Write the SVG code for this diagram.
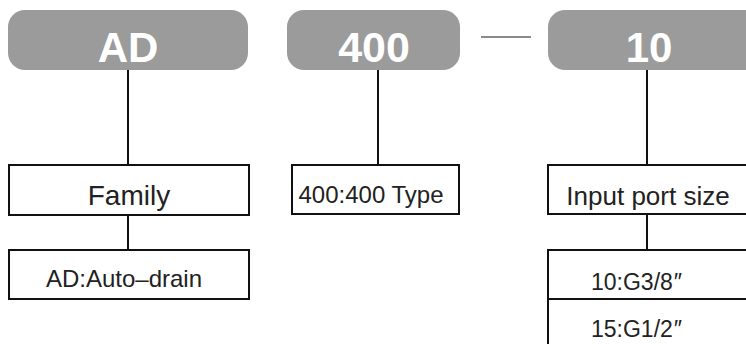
<svg xmlns="http://www.w3.org/2000/svg" width="746" height="344" viewBox="0 0 746 344">
<style>
.pill{fill:#9b9b9b}
.pt{font-family:"Liberation Sans",Arial,sans-serif;font-weight:bold;fill:#fff;text-anchor:middle}
.box{fill:#fff;stroke:#111;stroke-width:2}
.t{font-family:"Liberation Sans",Arial,sans-serif;fill:#222;text-anchor:middle}
.ln{stroke:#111;stroke-width:2;fill:none}
</style>
<rect width="746" height="344" fill="#fff"/>
<g id="connectors">
<line class="ln" x1="128" y1="70" x2="128" y2="165"/>
<line class="ln" x1="128" y1="215" x2="128" y2="250"/>
<line class="ln" x1="378" y1="70" x2="378" y2="165"/>
<line class="ln" x1="647" y1="70" x2="647" y2="165"/>
<line class="ln" x1="647" y1="214" x2="647" y2="250"/>
<line x1="481" y1="37" x2="531" y2="37" stroke="#8a8a8a" stroke-width="2"/>
</g>
<g id="pill-ad"><rect class="pill" x="8" y="10" width="240" height="60" rx="17"/><text class="pt" x="128" y="62" font-size="42">AD</text></g>
<g id="pill-400"><rect class="pill" x="287" y="10" width="173" height="60" rx="17"/><text class="pt" x="374" y="62" font-size="43">400</text></g>
<g id="pill-10"><rect class="pill" x="548" y="10" width="220" height="60" rx="17"/><text class="pt" x="649" y="62" font-size="42">10</text></g>
<g id="family"><rect class="box" x="9" y="165" width="240" height="50"/><text class="t" x="129" y="205" font-size="28">Family</text></g>
<g id="autodrain"><rect class="box" x="9" y="250" width="240" height="49"/><text class="t" x="124" y="287" font-size="24">AD:Auto–drain</text></g>
<g id="type400"><rect class="box" x="292" y="165" width="167" height="49"/><text class="t" x="371" y="203" font-size="24">400:400 Type</text></g>
<g id="inputport"><rect class="box" x="548" y="165" width="220" height="49"/><text class="t" x="648" y="205" font-size="26">Input port size</text></g>
<g id="opt10"><rect class="box" x="548" y="250" width="220" height="49"/><text class="t" x="636" y="290" font-size="23">10:G3/8<tspan font-style="italic">″</tspan></text></g>
<g id="opt15"><rect class="box" x="548" y="299" width="220" height="60"/><text class="t" x="636" y="337" font-size="23">15:G1/2<tspan font-style="italic">″</tspan></text></g>
</svg>
